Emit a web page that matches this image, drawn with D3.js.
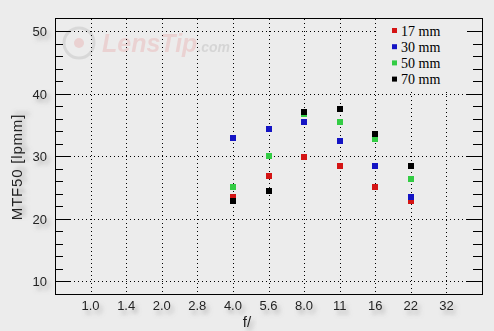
<!DOCTYPE html>
<html>
<head>
<meta charset="utf-8">
<script src="https://cdn.jsdelivr.net/npm/d3@7"></script>
<style>
  body { margin: 0; background: #ececec; }
  svg { display: block; }
  .tick-label { font-family: "Liberation Sans", Arial, sans-serif; font-size: 13px; fill: #222; }
  .axis-title { font-family: "Liberation Sans", Arial, sans-serif; font-size: 15px; fill: #222; }
  .legend-text { font-family: "Liberation Serif", "Times New Roman", serif; font-size: 14px; fill: #000; }
</style>
</head>
<body>
<div id="content"></div>
<script>
// apertures on the x axis
const APERTURES = ['1.0', '1.4', '2.0', '2.8', '4.0', '5.6', '8.0', '11', '16', '22', '32'];
const Y_TICKS = [10, 20, 30, 40, 50];
const SERIES_NAMES = ['17 mm', '30 mm', '50 mm', '70 mm'];
const SERIES_COLORS = ['#d41414', '#1414c4', '#33cc44', '#000000'];

// MTF50 values per focal length, from f/4.0 to f/22
const DATA_APERTURES = ['4.0', '5.6', '8.0', '11', '16', '22'];
const MTF_17 = [23.4, 26.8, 29.8, 28.5, 25.0, 22.8];
const MTF_30 = [32.9, 34.3, 35.4, 32.5, 28.4, 23.5];
const MTF_50 = [25.0, 30.0, 36.7, 35.4, 32.7, 26.4];
const MTF_70 = [22.9, 24.5, 37.1, 37.6, 33.5, 28.4];

function main() {
    var series = [MTF_17, MTF_30, MTF_50, MTF_70];

    var width = 494, height = 331;
    var left = 55, right = 482, top = 18, bottom = 294;

    var svg = d3.select('#content')
    .append('svg')
    .attr('width', width)
    .attr('height', height);

    var defs = svg.append('defs');
    defs.append('filter')
    .attr('id', 'shadow')
    .attr('x', '-50%').attr('y', '-50%').attr('width', '200%').attr('height', '200%')
    .append('feDropShadow')
    .attr('dx', 3).attr('dy', 4)
    .attr('stdDeviation', 2)
    .attr('flood-color', '#777')
    .attr('flood-opacity', 0.55);

    var x = d3.scalePoint()
    .domain(APERTURES)
    .range([left, right])
    .padding(1);

    var y = d3.scaleLinear()
    .domain([7.95, 52.1])
    .range([bottom, top]);

    // watermark
    var wm = svg.append('g').attr('opacity', 0.5);
    wm.append('circle').attr('cx', 79).attr('cy', 43).attr('r', 15)
    .attr('fill', 'none').attr('stroke', '#c6c6c6').attr('stroke-width', 3);
    wm.append('circle').attr('cx', 79).attr('cy', 43).attr('r', 5)
    .attr('fill', '#e9b7b7');
    var wmText = wm.append('text').attr('x', 102).attr('y', 52)
    .attr('font-family', 'Liberation Sans, Arial, sans-serif')
    .attr('font-weight', 'bold').attr('font-style', 'italic');
    wmText.append('tspan').attr('font-size', 25).attr('fill', '#eab9b9').text('LensTip');
    wmText.append('tspan').attr('font-size', 14).attr('fill', '#c0c0c0').text('.com');

    // grid
    var grid = svg.append('g')
    .attr('stroke', '#000')
    .attr('stroke-width', 1)
    .attr('stroke-dasharray', '1,3');

    grid.selectAll('.hgrid')
    .data(Y_TICKS)
    .enter()
    .append('line')
    .attr('x1', left + 15)
    .attr('x2', function (d) {return d === 50 ? 378 : right - 15})
    .attr('y1', function (d) {return Math.round(y(d)) + 0.5})
    .attr('y2', function (d) {return Math.round(y(d)) + 0.5});

    grid.selectAll('.vgrid')
    .data(APERTURES)
    .enter()
    .append('line')
    .attr('x1', function (d) {return Math.round(x(d)) + 0.5})
    .attr('x2', function (d) {return Math.round(x(d)) + 0.5})
    .attr('y1', function (d) {return x(d) > 378 ? 92 : top + 1})
    .attr('y2', bottom);

    // ticks, left and right
    var minor = d3.range(10, 52, 2).filter(function (d) {return d % 10 !== 0});
    var ticks = svg.append('g').attr('stroke', '#000').attr('stroke-width', 1);
    ticks.selectAll('.lmaj').data(Y_TICKS).enter().append('line')
    .attr('x1', left).attr('x2', left + 15)
    .attr('y1', function (d) {return Math.round(y(d)) + 0.5})
    .attr('y2', function (d) {return Math.round(y(d)) + 0.5});
    ticks.selectAll('.lmin').data(minor).enter().append('line')
    .attr('x1', left).attr('x2', left + 8)
    .attr('y1', function (d) {return Math.round(y(d)) + 0.5})
    .attr('y2', function (d) {return Math.round(y(d)) + 0.5});
    ticks.selectAll('.rmaj').data(Y_TICKS).enter().append('line')
    .attr('x1', right - 15).attr('x2', right)
    .attr('y1', function (d) {return Math.round(y(d)) + 0.5})
    .attr('y2', function (d) {return Math.round(y(d)) + 0.5});
    ticks.selectAll('.rmin').data(minor).enter().append('line')
    .attr('x1', right - 9).attr('x2', right)
    .attr('y1', function (d) {return Math.round(y(d)) + 0.5})
    .attr('y2', function (d) {return Math.round(y(d)) + 0.5});

    // frame
    svg.append('rect')
    .attr('x', left + 0.5).attr('y', top + 0.5)
    .attr('width', right - left).attr('height', bottom - top)
    .attr('fill', 'none').attr('stroke', '#000').attr('stroke-width', 1);

    // tick labels
    svg.selectAll('.ylab')
    .data(Y_TICKS)
    .enter()
    .append('text')
    .attr('class', 'tick-label')
    .attr('filter', 'url(#shadow)')
    .attr('x', 47)
    .attr('y', function (d) {return y(d) + 5})
    .attr('text-anchor', 'end')
    .text(function (d) {return d});

    svg.selectAll('.xlab')
    .data(APERTURES)
    .enter()
    .append('text')
    .attr('class', 'tick-label')
    .attr('filter', 'url(#shadow)')
    .attr('x', function (d) {return x(d)})
    .attr('y', 310)
    .attr('text-anchor', 'middle')
    .text(function (d) {return d});

    // axis titles
    svg.append('text')
    .attr('class', 'axis-title')
    .attr('filter', 'url(#shadow)')
    .attr('transform', 'translate(22, 167) rotate(-90)')
    .attr('text-anchor', 'middle')
    .attr('letter-spacing', 0.8)
    .text('MTF50 [lpmm]');

    svg.append('text')
    .attr('class', 'axis-title')
    .attr('filter', 'url(#shadow)')
    .attr('x', 247)
    .attr('y', 327)
    .attr('text-anchor', 'middle')
    .text('f/');

    // points
    series.forEach(function (vals, s) {
        svg.append('g')
        .selectAll('rect')
        .data(vals)
        .enter()
        .append('rect')
        .attr('x', function (d, i) {return Math.round(x(DATA_APERTURES[i])) - 3})
        .attr('y', function (d) {return Math.round(y(d)) - 3})
        .attr('width', 6)
        .attr('height', 6)
        .attr('fill', SERIES_COLORS[s]);
    });

    // legend
    var legend = svg.append('g');
    legend.selectAll('rect')
    .data(SERIES_NAMES)
    .enter()
    .append('rect')
    .attr('x', 392)
    .attr('y', function (d, i) {return 28 + i * 16.2})
    .attr('width', 5).attr('height', 5)
    .attr('fill', function (d, i) {return SERIES_COLORS[i]});
    legend.selectAll('text')
    .data(SERIES_NAMES)
    .enter()
    .append('text')
    .attr('class', 'legend-text')
    .attr('x', 401)
    .attr('y', function (d, i) {return 35.5 + i * 16.2})
    .text(function (d) {return d});
}

main();
</script>
</body>
</html>
